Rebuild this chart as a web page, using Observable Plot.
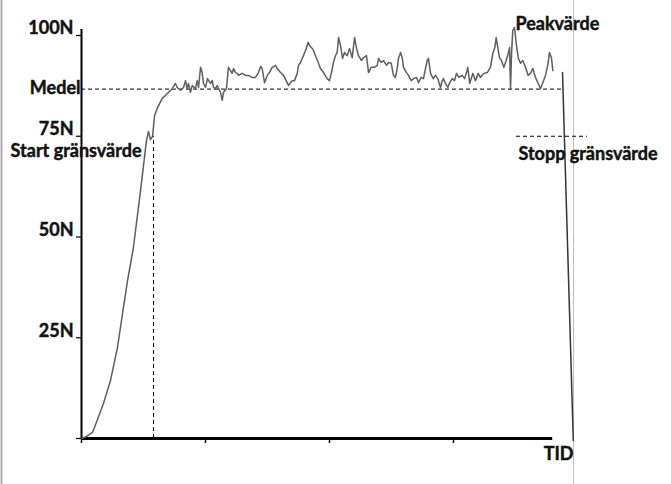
<!DOCTYPE html>
<html>
<head>
<meta charset="utf-8">
<script src="https://cdn.jsdelivr.net/npm/d3@7"></script>
<script src="https://cdn.jsdelivr.net/npm/@observablehq/plot@0.6"></script>
<style>
  html, body { margin: 0; padding: 0; background: #fff; }
  #chart svg { display: block; }
</style>
</head>
<body>
<div id="chart"></div>
<script>
// Force curve (time in tick units, force in N)
const time = [
  0, 0.040, 0.089, 0.129, 0.177, 0.234, 0.290, 0.331, 0.371, 0.419,
  0.476, 0.500, 0.524, 0.540, 0.556, 0.573, 0.589, 0.610, 0.651, 0.677,
  0.702, 0.731, 0.758, 0.772, 0.798, 0.823, 0.839, 0.852, 0.863, 0.879,
  0.893, 0.919, 0.933, 0.944, 0.960, 0.973, 0.984, 1.000, 1.016, 1.040,
  1.054, 1.065, 1.081, 1.094, 1.121, 1.135, 1.145, 1.169, 1.185, 1.202,
  1.215, 1.226, 1.242, 1.256, 1.266, 1.296, 1.323, 1.347, 1.377, 1.403,
  1.427, 1.444, 1.457, 1.476, 1.498, 1.516, 1.538, 1.565, 1.578, 1.605,
  1.629, 1.651, 1.669, 1.685, 1.699, 1.718, 1.740, 1.750, 1.766, 1.790,
  1.812, 1.828, 1.839, 1.860, 1.871, 1.893, 1.909, 1.927, 1.952, 1.981,
  2.000, 2.016, 2.032, 2.048, 2.062, 2.073, 2.089, 2.105, 2.121, 2.143,
  2.161, 2.183, 2.202, 2.218, 2.234, 2.258, 2.274, 2.298, 2.315, 2.336,
  2.363, 2.385, 2.395, 2.417, 2.435, 2.460, 2.476, 2.498, 2.516, 2.532,
  2.546, 2.556, 2.573, 2.586, 2.597, 2.621, 2.637, 2.659, 2.677, 2.702,
  2.718, 2.740, 2.758, 2.774, 2.788, 2.798, 2.815, 2.836, 2.855, 2.873,
  2.895, 2.909, 2.919, 2.935, 2.954, 2.970, 2.990, 3.008, 3.024, 3.043,
  3.070, 3.089, 3.105, 3.115, 3.131, 3.156, 3.177, 3.199, 3.218, 3.244,
  3.272, 3.298, 3.317, 3.333, 3.344, 3.357, 3.371, 3.387, 3.406, 3.425,
  3.441, 3.452, 3.460, 3.468, 3.478, 3.492, 3.506, 3.522, 3.540, 3.559,
  3.581, 3.602, 3.621, 3.640, 3.661, 3.683, 3.702, 3.720, 3.742, 3.763,
  3.774, 3.790, 3.801
];
const force = [
  0, 0.5, 1.5, 4.7, 8.7, 14.4, 22.6, 31.0, 39.2, 47.4,
  61.5, 67.7, 73.9, 76.2, 74.2, 74.9, 80.1, 81.9, 84.4, 85.1,
  85.9, 86.8, 88.1, 87.1, 86.4, 87.1, 88.8, 86.8, 88.1, 85.9,
  87.6, 86.8, 88.8, 87.1, 92.1, 90.8, 88.1, 87.1, 89.3, 88.1,
  88.8, 87.1, 86.8, 87.6, 85.9, 83.9, 85.9, 86.8, 92.1, 91.3,
  90.6, 91.8, 90.8, 90.6, 90.1, 90.6, 90.1, 90.1, 89.6, 89.6,
  90.8, 92.3, 91.8, 88.3, 90.1, 90.8, 92.1, 92.6, 91.8, 90.8,
  90.1, 88.8, 87.6, 88.3, 88.8, 88.8, 90.6, 92.6, 93.3, 95.0,
  96.8, 98.3, 97.5, 96.8, 96.3, 94.5, 93.3, 91.8, 90.8, 89.3,
  88.8, 90.8, 93.3, 95.0, 95.8, 99.5, 97.5, 94.3, 95.8, 95.0,
  96.8, 94.5, 99.5, 96.8, 95.0, 93.8, 94.5, 95.0, 90.8, 92.1,
  92.1, 92.6, 94.3, 93.3, 93.8, 92.6, 93.3, 93.1, 90.1, 89.6,
  91.8, 94.3, 95.8, 94.5, 92.1, 90.8, 90.1, 88.8, 89.3, 89.6,
  88.3, 89.6, 89.3, 91.8, 93.8, 94.3, 90.6, 89.3, 90.1, 89.3,
  87.1, 88.8, 89.3, 88.1, 87.1, 88.3, 89.3, 88.8, 90.6, 89.6,
  90.1, 89.3, 90.8, 92.1, 88.1, 90.6, 88.8, 90.6, 89.6, 90.6,
  90.8, 92.1, 95.5, 97.0, 99.5, 97.0, 94.5, 93.8, 92.1, 93.8,
  95.5, 97.0, 86.8, 95.5, 101.2, 102.0, 98.0, 94.5, 93.1, 93.8,
  92.1, 90.1, 90.6, 91.8, 89.6, 88.1, 86.8, 88.3, 90.1, 93.1,
  95.8, 94.5, 91.3
];
// Release (drop) after the stop
const dropTime = [3.879, 3.966];
const dropForce = [90.8, -0.5];

const medel = 86.7;            // mean force (N)
const medelEnd = 3.88;
const startTime = 0.581;       // start threshold crossing
const startThreshold = 75;     // N
const stopThreshold = 75;      // N
const stopRange = [3.508, 4.081];
const peakTime = 3.492;
const peakForce = 102.0;

const yTicks = [0, 25, 50, 75, 100];
const yTickLabels = ["", "25N", "50N", "75N", "100N"];
const xTicks = [0, 1, 2, 3];
const xAxisEnd = 3.8;
const yAxisTop = 101.5;
const frameLeft = -0.645;
const frameRight = 3.968;

const curve = time.map((t, i) => ({t, f: force[i]}));
const drop = dropTime.map((t, i) => ({t, f: dropForce[i]}));
const yLabelData = yTicks.map((v, i) => ({v, label: yTickLabels[i]})).filter(d => d.label);

const FS = 18;
const txt = {fontSize: FS, fontWeight: "bold", fill: "#111", stroke: "#111", strokeWidth: 0.45};

const chart = Plot.plot({
  width: 671,
  height: 484,
  marginLeft: 81,
  marginRight: 94,
  marginTop: 35,
  marginBottom: 46,
  x: {domain: [0, 4], axis: null},
  y: {domain: [0, 100], axis: null},
  style: {fontFamily: "Lato, 'DejaVu Sans', sans-serif", background: "#fff"},
  marks: [
    // outer frame lines of the original picture
    Plot.ruleX([frameLeft], {y1: -12, y2: 110, stroke: "#aaa", strokeWidth: 2}),
    Plot.ruleX([frameRight], {y1: -12, y2: 110, stroke: "#bbb", strokeWidth: 1}),
    // axes
    Plot.ruleX([0], {y1: 0, y2: yAxisTop, stroke: "#000", strokeWidth: 2}),
    Plot.ruleY([0], {x1: 0, x2: xAxisEnd, stroke: "#000", strokeWidth: 3}),
    Plot.axisY(yTicks, {anchor: "left", tickSize: 5, tickFormat: () => "", label: null, strokeWidth: 1.2}),
    Plot.axisX(xTicks, {anchor: "bottom", tickSize: 5, tickFormat: () => "", label: null, strokeWidth: 1.5}),
    Plot.text(yLabelData, {x: 0, y: "v", text: "label", textAnchor: "end", dx: -8, dy: -7, lineAnchor: "middle", ...txt}),
    // reference lines
    Plot.ruleY([medel], {x1: 0, x2: medelEnd, stroke: "#000", strokeDasharray: "4,3", strokeWidth: 1}),
    Plot.ruleX([startTime], {y1: 0, y2: startThreshold, stroke: "#000", strokeDasharray: "4,3", strokeWidth: 1}),
    Plot.ruleY([stopThreshold], {x1: stopRange[0], x2: stopRange[1], stroke: "#000", strokeDasharray: "4,3", strokeWidth: 1}),
    // force curve
    Plot.line(curve, {x: "t", y: "f", stroke: "#5e5e5e", strokeWidth: 1.5}),
    Plot.line(drop, {x: "t", y: "f", stroke: "#333", strokeWidth: 1.5}),
    // labels
    Plot.text(["Medel"], {x: 0, y: medel, text: d => d, textAnchor: "end", dx: -1, dy: -1, lineAnchor: "middle", ...txt}),
    Plot.text(["Start gränsvärde"], {x: startTime, y: startThreshold, text: d => d, textAnchor: "end", dx: -12, dy: 8, lineAnchor: "top", ...txt}),
    Plot.text(["Peakvärde"], {x: peakTime, y: peakForce, text: d => d, textAnchor: "start", dx: 1, dy: 3, lineAnchor: "bottom", ...txt}),
    Plot.text(["Stopp gränsvärde"], {x: stopRange[0], y: stopThreshold, text: d => d, textAnchor: "start", dx: 2, dy: 11, lineAnchor: "top", ...txt}),
    Plot.text(["TID"], {x: frameRight, y: 0, text: d => d, textAnchor: "end", dx: 0, dy: 9, lineAnchor: "top", ...txt})
  ]
});
document.getElementById("chart").appendChild(chart);
</script>
</body>
</html>
